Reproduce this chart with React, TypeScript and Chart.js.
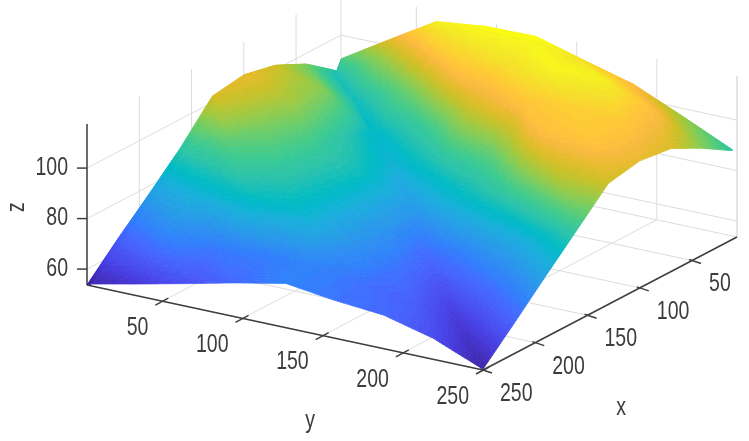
import React, { useEffect, useRef } from "react";
import { Chart, registerables } from "chart.js";

Chart.register(...registerables);

const xNodes = [250, 220, 190, 160, 130, 100, 70, 40, 16, 11];
const yNodes = [3, 6, 34, 65, 96, 127, 157, 188, 219, 250];
const zAtX250 = [53.7, 54.5, 58.3, 62.7, 67.2, 71.2, 68.7, 67, 62, 54];
const zAtX220 = [65.8, 66, 72.5, 69.5, 70, 71, 68, 65, 57, 65.8];
const zAtX190 = [77.1, 77, 81.5, 85, 83, 75, 69, 61, 68, 77.9];
const zAtX160 = [88.9, 89, 92, 89, 84, 76, 67, 73, 80, 89.7];
const zAtX130 = [102.5, 102, 96, 90, 85, 76, 83, 90, 100, 101.6];
const zAtX100 = [104.4, 104, 98, 88, 81, 88, 93, 107, 108.4, 104];
const zAtX70 = [101.7, 101, 96, 83, 90, 102, 108, 110, 109, 102.4];
const zAtX40 = [95.7, 94, 85, 95, 109, 112, 116, 115, 107, 96];
const zAtX16 = [88.3, 86, 98, 112, 115.8, 116.2, 113, 107.5, 99, 90];
const zAtX11 = [86.6, 92, 102.9, 114.7, 117, 117.3, 111.9, 106.6, 98, 89];
const zRows = [zAtX250, zAtX220, zAtX190, zAtX160, zAtX130, zAtX100, zAtX70, zAtX40, zAtX16, zAtX11];

const xTicks = [50, 100, 150, 200, 250];
const yTicks = [50, 100, 150, 200, 250];
const zTicks = [60, 80, 100];

const parula = [
  [.2422,.1504,.6603],[.2504,.1650,.7076],[.2578,.1818,.7511],[.2647,.1978,.7952],[.2706,.2147,.8364],[.2751,.2342,.8710],[.2783,.2559,.8991],[.2803,.2782,.9221],
  [.2813,.3006,.9414],[.2810,.3228,.9579],[.2795,.3447,.9717],[.2760,.3667,.9829],[.2699,.3892,.9906],[.2602,.4123,.9952],[.2440,.4358,.9988],[.2206,.4603,.9973],
  [.1963,.4847,.9892],[.1834,.5074,.9798],[.1786,.5289,.9682],[.1764,.5499,.9520],[.1687,.5703,.9359],[.1540,.5902,.9218],[.1460,.6091,.9079],[.1380,.6276,.8973],
  [.1248,.6459,.8883],[.1113,.6635,.8763],[.0952,.6798,.8598],[.0689,.6948,.8394],[.0297,.7082,.8163],[.0036,.7203,.7917],[.0067,.7312,.7660],[.0433,.7411,.7394],
  [.0964,.7500,.7120],[.1408,.7584,.6842],[.1717,.7670,.6554],[.1938,.7758,.6251],[.2161,.7843,.5923],[.2470,.7918,.5567],[.2906,.7973,.5188],[.3406,.8008,.4789],
  [.3909,.8029,.4354],[.4456,.8024,.3909],[.5044,.7993,.3480],[.5616,.7942,.3045],[.6174,.7876,.2612],[.6720,.7793,.2227],[.7242,.7698,.1910],[.7738,.7598,.1646],
  [.8203,.7498,.1535],[.8634,.7406,.1596],[.9035,.7330,.1774],[.9393,.7288,.2100],[.9728,.7298,.2394],[.9956,.7434,.2371],[.9970,.7659,.2199],[.9952,.7893,.2028],
  [.9892,.8136,.1885],[.9786,.8386,.1766],[.9676,.8639,.1643],[.9610,.8890,.1537],[.9597,.9135,.1423],[.9628,.9373,.1265],[.9691,.9606,.1064],[.9769,.9839,.0805],
];

const X_NEAR = 250, X_FAR = 7, Y_NEAR = 3, Y_FAR = 250, Z_LOW = 53.7, Z_HIGH = 117.5;

function project(x: number, y: number, z: number) {
  const u = (X_NEAR - x) / (X_NEAR - X_FAR);
  const v = (y - Y_NEAR) / (Y_FAR - Y_NEAR);
  return { x: 87 + 254 * u + 396 * v, y: 285 - 133 * u + 85 * v - 2.525 * (z - Z_LOW) };
}

const allZ = zRows.flat();
const zMin = Math.min(...allZ);
const zMax = Math.max(...allZ);

function colorFor(z: number) {
  const t = Math.max(0, Math.min(0.9999, (z - zMin) / (zMax - zMin)));
  const c = parula[Math.floor(t * parula.length)];
  return `rgb(${Math.round(c[0] * 255)},${Math.round(c[1] * 255)},${Math.round(c[2] * 255)})`;
}

function lineSet(points: { x: number; y: number }[], color: string, width: number) {
  return { type: "scatter", data: points, showLine: true, borderColor: color, borderWidth: width, pointRadius: 0, fill: false };
}

const GRID = "#dcdcdc";
const AXIS = "#3f3f3f";

function gridLines() {
  const out: any[] = [];
  const edge = (a: number[], b: number[]) => out.push(lineSet([project(a[0], a[1], a[2]), project(b[0], b[1], b[2])], GRID, 1));
  for (const z of zTicks) {
    edge([X_NEAR, Y_NEAR, z], [X_FAR, Y_NEAR, z]);
    edge([X_FAR, Y_NEAR, z], [X_FAR, Y_FAR, z]);
  }
  for (const x of xTicks) {
    edge([x, Y_NEAR, Z_LOW], [x, Y_FAR, Z_LOW]);
    edge([x, Y_NEAR, Z_LOW], [x, Y_NEAR, Z_HIGH]);
  }
  for (const y of yTicks) {
    edge([X_NEAR, y, Z_LOW], [X_FAR, y, Z_LOW]);
    edge([X_FAR, y, Z_LOW], [X_FAR, y, Z_HIGH]);
  }
  edge([X_NEAR, Y_NEAR, Z_LOW], [X_FAR, Y_NEAR, Z_LOW]);
  edge([X_FAR, Y_NEAR, Z_LOW], [X_FAR, Y_FAR, Z_LOW]);
  edge([X_FAR, Y_FAR, Z_LOW], [X_FAR, Y_FAR, Z_HIGH]);
  edge([X_FAR, Y_NEAR, Z_LOW], [X_FAR, Y_NEAR, Z_HIGH]);
  return out;
}

function axisLines() {
  const out: any[] = [];
  const seg = (pts: { x: number; y: number }[]) => out.push(lineSet(pts, AXIS, 1.5));
  seg([project(X_NEAR, Y_NEAR, Z_LOW), project(X_NEAR, Y_FAR, Z_LOW)]);
  seg([project(X_NEAR, Y_FAR, Z_LOW), project(X_FAR, Y_FAR, Z_LOW)]);
  seg([project(X_NEAR, Y_NEAR, Z_LOW), project(X_NEAR, Y_NEAR, Z_HIGH)]);
  for (const z of zTicks) {
    const p = project(X_NEAR, Y_NEAR, z);
    seg([p, { x: p.x - 10, y: p.y }]);
  }
  for (const y of yTicks) {
    const p = project(X_NEAR, y, Z_LOW);
    seg([{ x: p.x + 6, y: p.y - 3 }, { x: p.x - 7, y: p.y + 4 }]);
  }
  for (const x of xTicks) {
    const p = project(x, Y_FAR, Z_LOW);
    seg([{ x: p.x - 3, y: p.y - 1 }, { x: p.x + 9, y: p.y + 3 }]);
  }
  return out;
}

const surfacePlugin = {
  id: "surface",
  afterDatasetsDraw(chart: any) {
    const { ctx, scales } = chart;
    const px = (p: { x: number; y: number }) => [scales.x.getPixelForValue(p.x), scales.y.getPixelForValue(p.y)];
    const N = 16;
    ctx.save();
    ctx.lineWidth = 0.7;
    ctx.lineJoin = "round";
    for (let i = xNodes.length - 2; i >= 0; i--) {
      for (let j = 0; j < yNodes.length - 1; j++) {
        const z00 = zRows[i][j], z10 = zRows[i + 1][j], z01 = zRows[i][j + 1], z11 = zRows[i + 1][j + 1];
        for (let a = N - 1; a >= 0; a--) {
          for (let b = 0; b < N; b++) {
            // Each grid cell is two triangles split along its far-x/near-y diagonal.
            const at = (s: number, t: number) => {
              const z = s + t <= 1 ? z00 + s * (z10 - z00) + t * (z01 - z00) : z11 + (1 - s) * (z01 - z11) + (1 - t) * (z10 - z11);
              const x = xNodes[i] + (xNodes[i + 1] - xNodes[i]) * s;
              const y = yNodes[j] + (yNodes[j + 1] - yNodes[j]) * t;
              return { p: px(project(x, y, z)), z };
            };
            const c = [at(a / N, b / N), at((a + 1) / N, b / N), at((a + 1) / N, (b + 1) / N), at(a / N, (b + 1) / N)];
            const col = colorFor((c[0].z + c[1].z + c[2].z + c[3].z) / 4);
            ctx.fillStyle = col;
            ctx.strokeStyle = col;
            ctx.beginPath();
            c.forEach((q, k) => (k ? ctx.lineTo(q.p[0], q.p[1]) : ctx.moveTo(q.p[0], q.p[1])));
            ctx.closePath();
            ctx.fill();
            ctx.stroke();
          }
        }
      }
    }
    ctx.restore();
  },
  afterDraw(chart: any) {
    const { ctx, scales } = chart;
    const label = (text: string, x: number, y: number, align: string, rot = 0) => {
      ctx.save();
      ctx.translate(scales.x.getPixelForValue(x), scales.y.getPixelForValue(y));
      if (rot) ctx.rotate(rot);
      ctx.scale(0.78, 1);
      ctx.font = "25px 'Liberation Sans', Arial, sans-serif";
      ctx.fillStyle = "#3c3c3c";
      ctx.textAlign = align;
      ctx.textBaseline = "middle";
      ctx.fillText(text, 0, 0);
      ctx.restore();
    };
    for (const z of zTicks) {
      const p = project(X_NEAR, Y_NEAR, z);
      label(String(z), p.x - 19, p.y, "right");
    }
    for (const y of yTicks) {
      const p = project(X_NEAR, y, Z_LOW);
      label(String(y), p.x - 14, p.y + 27, "right");
    }
    for (const x of xTicks) {
      const p = project(x, Y_FAR, Z_LOW);
      label(String(x), p.x + 17, p.y + 24, "left");
    }
    label("x", 621, 408, "center");
    label("y", 310, 421, "center");
    label("z", 17, 207, "center", -Math.PI / 2);
  },
};

export default function App() {
  const ref = useRef<HTMLCanvasElement>(null);
  useEffect(() => {
    const nodes: { x: number; y: number }[] = [];
    xNodes.forEach((x, i) => yNodes.forEach((y, j) => nodes.push(project(x, y, zRows[i][j]))));
    const chart = new Chart(ref.current as HTMLCanvasElement, {
      type: "scatter",
      data: {
        datasets: [
          ...axisLines(),
          ...gridLines(),
          { label: "surface", data: nodes, pointRadius: 0, showLine: false },
        ] as any,
      },
      options: {
        animation: false,
        responsive: false,
        layout: { padding: 0 },
        plugins: { legend: { display: false }, tooltip: { enabled: false } },
        scales: {
          x: { type: "linear", min: 0, max: 749, display: false },
          y: { type: "linear", min: 0, max: 441, reverse: true, display: false },
        },
      },
      plugins: [surfacePlugin],
    } as any);
    return () => chart.destroy();
  }, []);
  return (
    <div style={{ position: "absolute", left: 0, top: 0, width: 749, height: 441, background: "#fff" }}>
      <canvas ref={ref} width={749} height={441} style={{ display: "block", filter: "blur(0.5px)" }} />
    </div>
  );
}
